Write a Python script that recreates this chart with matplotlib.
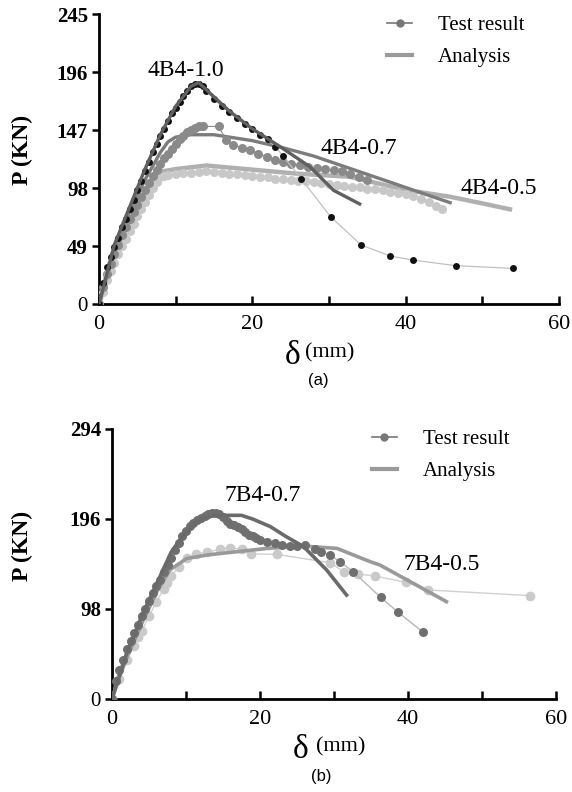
import matplotlib
matplotlib.use("Agg")
import matplotlib.pyplot as plt
from matplotlib.lines import Line2D

plt.rcParams['font.family'] = ['Liberation Serif', 'DejaVu Serif']

# ---------------- data: (a) 4B4 specimens ----------------
t10_x = [0, 0.5, 1, 1.5, 2, 2.5, 3, 3.5, 4, 4.5, 5, 5.5, 6, 6.5, 7, 7.5, 8, 8.5, 9, 9.5, 10,
         10.5, 11, 11.5, 12, 12.5, 13, 13.5, 14, 15, 16, 17, 18, 19, 20, 21, 22, 23, 24,
         26.4, 30.2, 34.2, 38.0, 40.9, 46.5, 54.0]
t10_y = [0, 18, 31, 40, 48, 56, 65, 72, 80, 88, 96, 104, 112, 120, 128, 135, 142, 148, 155, 161, 166,
         171, 176, 180, 184, 186, 186, 184, 180, 173, 167, 162, 157, 152, 148, 143, 139, 133, 125,
         105.6, 73.8, 49.8, 40.5, 37.2, 32.4, 30.1]

t07_x = [0, 0.5, 1, 1.5, 2, 2.5, 3, 3.5, 4, 4.5, 5, 5.5, 6, 6.5, 7, 7.5, 8, 8.5, 9, 9.5, 10,
         10.5, 11, 11.5, 12, 12.5, 13, 13.5, 15.6, 16.6, 17.5, 18.6, 19.7, 20.8, 21.9, 23, 24,
         25.1, 26.2, 27.3, 28.4, 29.5, 30.6, 31.7, 32.8, 33.9, 34.9]
t07_y = [0, 14, 25, 34, 42, 50, 58, 65, 72, 78, 84, 90, 96, 102, 108, 113, 118, 123, 127, 131, 135,
         139, 142, 145, 147, 149, 150, 150, 150, 138.5, 134.3, 132, 130, 127, 124.5, 122, 120.2,
         118.5, 117.4, 116, 114.6, 114, 113.2, 112, 110, 107.5, 104.7]

t05_x = [0, 0.5, 1, 1.5, 2, 2.5, 3, 3.5, 4, 4.5, 5, 5.5, 6, 6.5, 7, 7.5, 8, 8.5, 9, 10, 11, 12,
         13, 14, 15, 16, 17, 18, 19, 20, 21, 22, 23, 24, 25, 26, 27, 28, 29, 30, 31, 32, 33, 34,
         35, 36, 37, 38, 39, 40, 41, 42, 43, 44, 44.7]
t05_y = [0, 10, 20, 28, 35, 42, 49, 55, 62, 68, 74, 80, 86, 92, 98, 103, 107, 108, 109, 110, 110.5, 111,
         111.5, 112, 111.5, 111, 110, 109.5, 109, 108, 107.5, 107, 106, 105.5, 105, 104, 103.5, 103,
         102, 101.5, 100.5, 100, 99, 98.5, 97.5, 97, 96, 95, 94, 93, 91.5, 89, 86, 83, 80]

a10_x = [0, 2, 4, 6, 8, 10, 12, 13, 15, 17, 20, 23.6, 27.5, 30.6, 34]
a10_y = [0, 50, 82, 114, 143, 167, 184, 187, 175, 163, 148, 133, 116, 96, 84.5]

a07_x = [0, 2, 4, 6, 8, 9, 10, 12, 15, 18, 20, 24, 28, 32.7, 38.4, 42, 45.8]
a07_y = [0, 45, 78, 105, 128, 137, 141, 143, 143, 140, 138, 132, 125, 114.6, 102, 94, 85.6]

a05_x = [0, 2, 4, 6, 8.2, 10, 14, 20, 26, 32.7, 40.1, 45.8, 50, 53.6]
a05_y = [0, 38, 66, 92, 112, 114, 117, 113.5, 110, 107.5, 96.3, 90.6, 85, 80]

# ---------------- data: (b) 7B4 specimens ----------------
u07_x = [0, 0.5, 1, 1.5, 2, 2.5, 3, 3.5, 4, 4.5, 5, 5.5, 6, 6.5, 7, 7.5, 8, 8.5, 9, 9.5, 10,
         10.5, 11, 11.5, 12, 12.5, 13, 13.5, 14, 14.5, 15, 15.5, 16, 16.5, 17, 17.5, 18, 18.5,
         19, 19.5, 20, 21, 22, 23, 24, 25, 26.1, 27.4, 28.3, 29.5, 30.8, 32.6, 36.3, 38.7, 42]
u07_y = [0, 20, 32, 43, 54, 63, 72, 81, 90, 98, 107, 115, 123, 130, 138, 146, 154, 162, 170, 177, 183,
         188, 192, 195, 197.5, 199.5, 201, 202, 202, 201, 198, 194, 191, 189, 187, 185, 182, 179,
         177, 175, 173, 171, 169.5, 168, 167, 166.5, 167.7, 163, 160.4, 156.8, 149.5, 138.6, 110.7, 94.2, 73]

u05_x = [0, 1, 2, 3, 3.55, 4, 5, 6, 7, 7.4, 8, 9, 10.1, 11.4, 12.9, 14.6, 15.9, 17.5, 18.8, 22.3,
         29.5, 31.3, 33.3, 35.6, 39.7, 42.7, 56.5]
u05_y = [0, 22, 42, 58, 68, 74, 90, 106, 120, 126, 134, 144, 153, 157.9, 160, 163, 164.8, 163, 158, 157.4,
         148.4, 138.6, 136, 133.9, 127, 118.7, 112.6]

b07_x = [0, 1, 2, 4, 6, 8, 9.6, 11, 12, 13.7, 17.5, 19, 21.4, 23.5, 25.9, 29, 31.7]
b07_y = [0, 25, 50, 90, 125, 160, 178, 190, 196, 200, 200, 196, 187.7, 177, 165.8, 140.5, 113.2]

b05_x = [0, 1, 2, 4, 6, 7.8, 10.1, 13, 16.9, 21, 25.9, 30.4, 34.9, 36.2, 40.7, 45.2]
b05_y = [0, 24, 45, 82, 116, 140.5, 153, 157, 160.4, 164, 166.5, 164, 149.5, 145.9, 126, 106]

top_yticks = [0, 49, 98, 147, 196, 245]
bot_yticks = [0, 98, 196, 294]
xticks_major = [0, 20, 40, 60]
xticks_minor = [10, 30, 50]
legend_labels = ['Test result', 'Analysis']

W, H = 572, 792
fig = plt.figure(figsize=(W / 100, H / 100), dpi=100)


def px_axes(l, t, r, b):
    return fig.add_axes([l / W, 1 - b / H, (r - l) / W, (b - t) / H])


def style(ax, yticks, ymax):
    ax.set_xlim(0, 60)
    ax.set_ylim(0, ymax)
    for s in ['top', 'right']:
        ax.spines[s].set_visible(False)
    for s in ['left', 'bottom']:
        ax.spines[s].set_linewidth(2)
        ax.spines[s].set_color('black')
    ax.set_xticks(xticks_major + xticks_minor)
    ax.set_xticklabels([str(v) if v in xticks_major else '' for v in xticks_major + xticks_minor])
    ax.set_yticks(yticks)
    ax.set_yticklabels([str(v) for v in yticks])
    ax.tick_params(axis='x', direction='in', length=6, width=1.8, labelsize=16, pad=8)
    ax.tick_params(axis='y', direction='out', length=5, width=1.8, labelsize=15, pad=3)
    for lab in ax.get_yticklabels():
        if lab.get_text() != '0':
            lab.set_fontweight('bold')
    ax.set_facecolor('none')


def legend(ax, x, y):
    h = [Line2D([], [], color='#777777', lw=1.2, marker='o', markersize=5),
         Line2D([], [], color='#9a9a9a', lw=3)]
    ax.legend(h, legend_labels, loc='upper left', bbox_to_anchor=(x, y), frameon=False,
              fontsize=15, handlelength=1.2, handletextpad=1.25, labelspacing=0.6,
              borderaxespad=0)


# ---------- (a) ----------
ax1 = px_axes(99, 14, 559, 304)
style(ax1, top_yticks, 245)
ax1.plot(a05_x, a05_y, color='#b0b0b0', lw=3.2, zorder=2)
ax1.plot(t05_x, t05_y, color='#c8c8c8', lw=0.8, marker='o', markersize=6.5,
         markeredgewidth=0, zorder=3)
ax1.plot(a07_x, a07_y, color='#7c7c7c', lw=2.4, zorder=4)
ax1.plot(t07_x, t07_y, color='#8a8a8a', lw=0.8, marker='o', markersize=6.5,
         markeredgewidth=0, zorder=5)
ax1.plot(t10_x, t10_y, color='#c0c0c0', lw=0.9, zorder=5)
ax1.plot(t10_x, t10_y, color='#111111', lw=0, marker='o', markersize=5,
         markeredgewidth=0, zorder=6)
ax1.plot(a10_x, a10_y, color='#606060', lw=2.4, zorder=7)
ax1.text(11.3, 197, '4B4-1.0', fontsize=17, ha='center', va='center')
ax1.text(33.9, 131.5, '4B4-0.7', fontsize=17, ha='center', va='center')
ax1.text(52.2, 98, '4B4-0.5', fontsize=17, ha='center', va='center')
legend(ax1, 0.608, 1.024)

# ---------- (b) ----------
ax2 = px_axes(112, 429, 556, 699)
style(ax2, bot_yticks, 294)
ax2.plot(u05_x, u05_y, color='#d0d0d0', lw=1.0, marker='o', markersize=7,
         markeredgewidth=0, markerfacecolor='#cacaca', zorder=3)
ax2.plot(b05_x, b05_y, color='#9a9a9a', lw=2.6, zorder=4)
ax2.plot(u07_x, u07_y, color='#b8b8b8', lw=1.0, marker='o', markersize=6.5,
         markeredgewidth=0, markerfacecolor='#6f6f6f', zorder=5)
ax2.plot(b07_x, b07_y, color='#6a6a6a', lw=2.6, zorder=6)
ax2.text(20.3, 222, '7B4-0.7', fontsize=17, ha='center', va='center')
ax2.text(44.6, 146, '7B4-0.5', fontsize=17, ha='center', va='center')
legend(ax2, 0.566, 1.03)


def ftext(x, y, s, **kw):
    fig.text(x / W, 1 - y / H, s, **kw)


# axis titles
ftext(22, 150, 'P (KN)', rotation=90, fontsize=17, fontweight='bold', ha='center', va='center')
ftext(22, 546, 'P (KN)', rotation=90, fontsize=17, fontweight='bold', ha='center', va='center')
ftext(300, 356, 'δ', fontsize=24, ha='right', va='center')
ftext(305, 353, '(mm)', fontsize=16, ha='left', va='center')
ftext(308, 750, 'δ', fontsize=24, ha='right', va='center')
ftext(316, 747, '(mm)', fontsize=16, ha='left', va='center')
ftext(318, 381, '(a)', fontsize=12, ha='center', va='center', family=['Liberation Sans', 'DejaVu Sans'])
ftext(321, 776, '(b)', fontsize=12, ha='center', va='center', family=['Liberation Sans', 'DejaVu Sans'])

fig.savefig('out.png', dpi=100)
